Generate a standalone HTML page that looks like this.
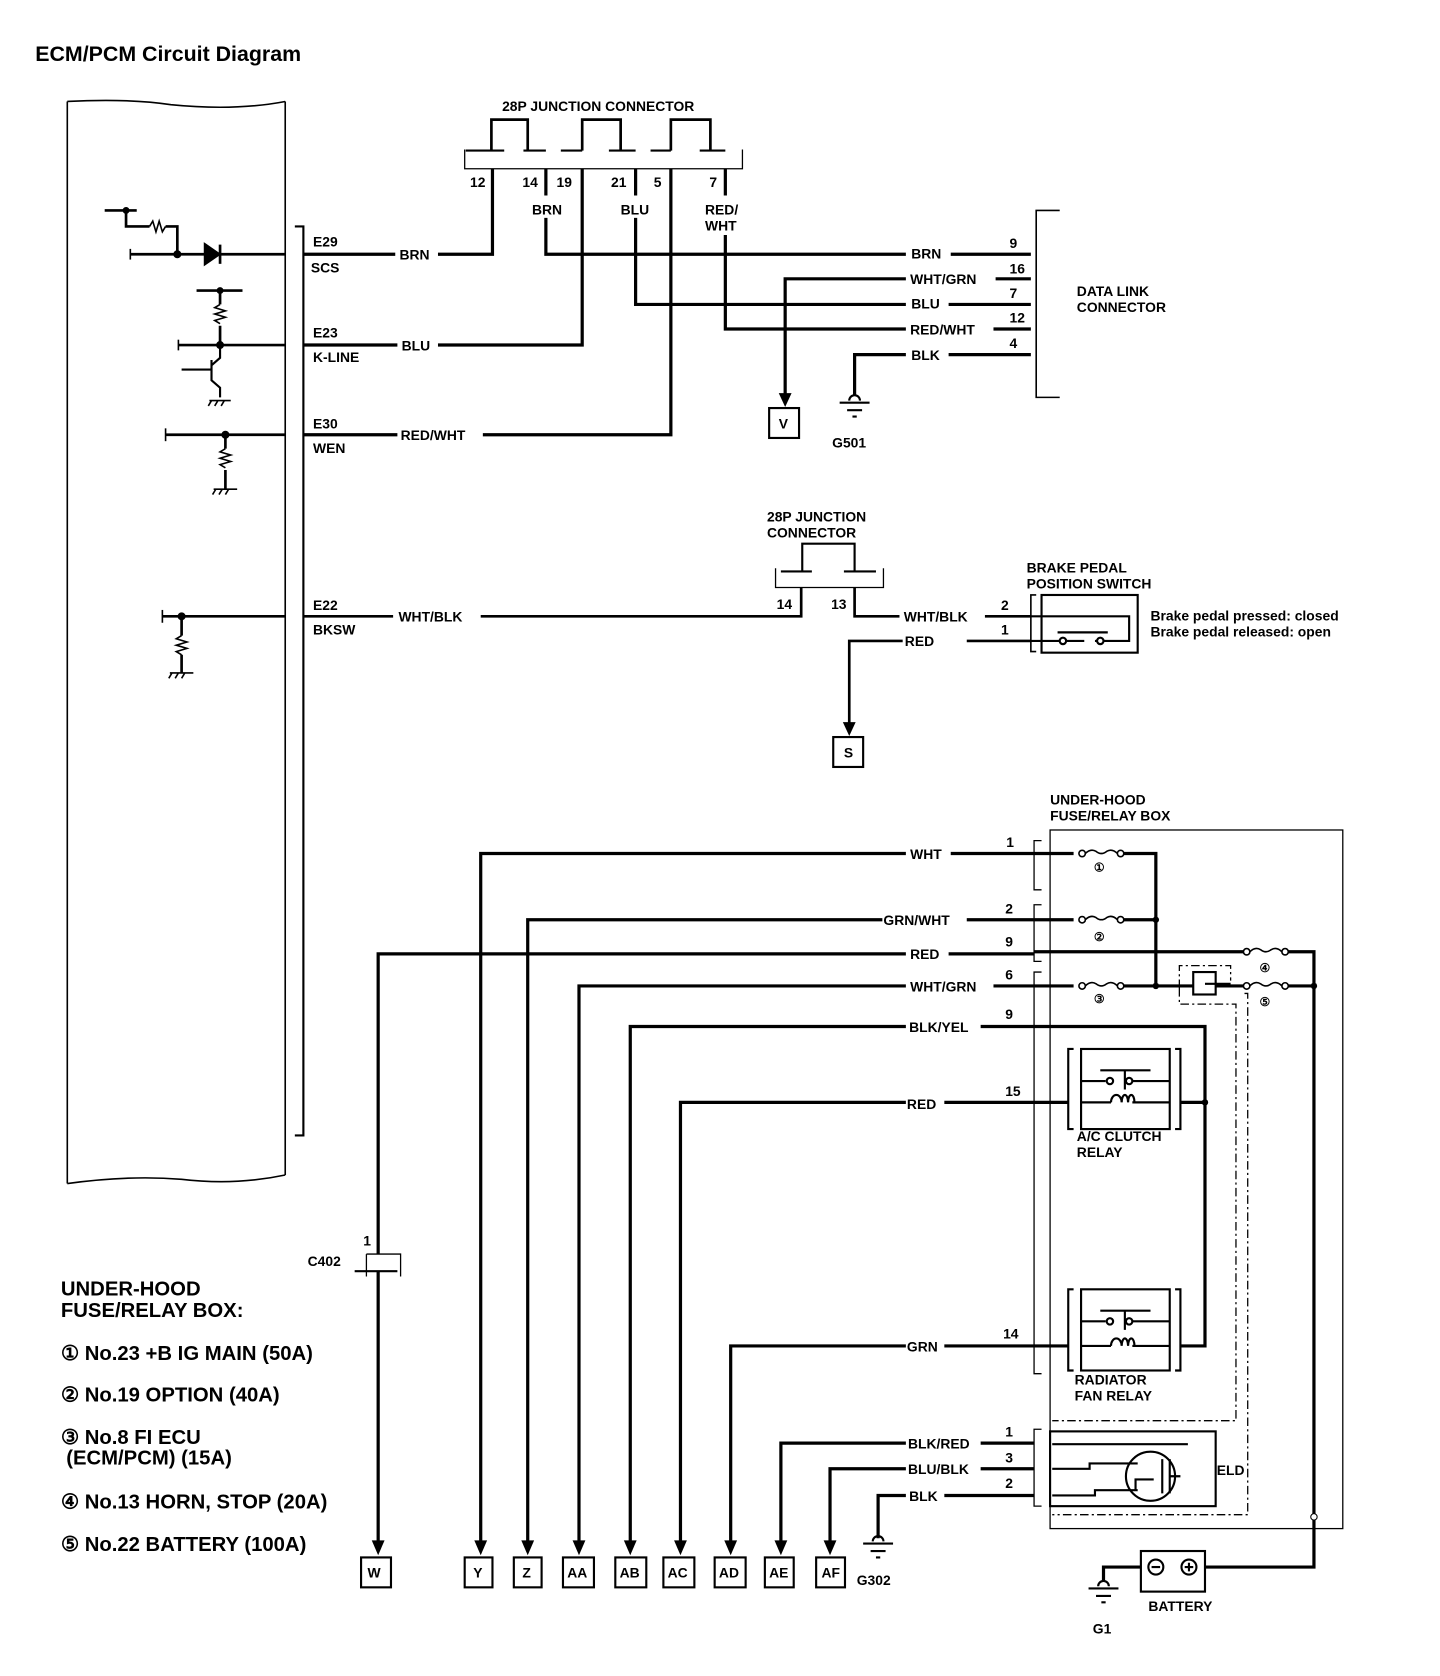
<!DOCTYPE html>
<html><head><meta charset="utf-8"><style>
html,body{margin:0;padding:0;background:#fff;}
svg{display:block;}
text{font-family:"Liberation Sans",sans-serif;font-weight:bold;fill:#000;}
</style></head><body>
<svg width="1440" height="1676" viewBox="0 0 1348 1569" preserveAspectRatio="none" xmlns="http://www.w3.org/2000/svg">
<defs>
<symbol id="fuse" overflow="visible"><circle cx="0" cy="0" r="3" fill="#fff" stroke="#000" stroke-width="1.5"/><path d="M3,0 Q8,-5 13,-2 Q18,2 23,-2 Q28,-5 33,0" fill="none" stroke="#000" stroke-width="1.5"/><circle cx="36" cy="0" r="3" fill="#fff" stroke="#000" stroke-width="1.5"/></symbol>
</defs>
<text x="33" y="57" font-size="20">ECM/PCM Circuit Diagram</text>

<!-- ECM box -->
<g fill="none" stroke="#000" stroke-width="1.5">
<path d="M63,95 Q120,92 160,98 Q220,104 267,95"/>
<path d="M63,95 V1108"/><path d="M267,95 V1100"/>
<path d="M63,1108 Q120,1100 170,1104 Q220,1110 267,1100"/>
<path d="M276,212 H284 V1063 H276" stroke-width="2"/>
</g>
<!-- ECM internals -->
<g fill="none" stroke="#000" stroke-width="2.5">
<path d="M98,197 H128"/><circle cx="118" cy="197" r="2" fill="#000"/>
<path d="M118,197 V212 H140 M155,212 H166 V238"/>
<path d="M140,212 l3,-5 l3,10 l3,-10 l3,10 l3,-5" stroke-width="1.5"/>
<path d="M122,238 H267"/><path d="M122,233 V243" stroke-width="1.5"/>
<path d="M192,229 L205,238 L192,247 Z" fill="#000"/><path d="M206,229 V247"/>
<circle cx="166" cy="238" r="2.5" fill="#000"/>
<path d="M184,272 H227"/><circle cx="206" cy="272" r="2" fill="#000"/>
<path d="M206,272 V285 M206,305 V323"/>
<path d="M206,285 l-5,3 l10,3 l-10,3 l10,3 l-10,3 l5,3" stroke-width="1.5"/>
<path d="M167,323 H267"/><path d="M167,318 V328" stroke-width="1.5"/><circle cx="206" cy="323" r="2.5" fill="#000"/>
<path d="M206,323 V335 L198,342 M198,337 V356 L206,363 V372 M170,346 H198" stroke-width="2"/>
<path d="M196,375 H216 M198,375 l-3,5 M204,375 l-3,5 M210,375 l-3,5" stroke-width="1.5"/>
<path d="M155,407 H267"/><path d="M155,401 V413" stroke-width="1.5"/><circle cx="211" cy="407" r="2.5" fill="#000"/>
<path d="M211,407 V420 M211,440 V458"/>
<path d="M211,420 l-5,3 l10,3 l-10,3 l10,3 l-10,3 l5,3" stroke-width="1.5"/>
<path d="M200,458 H222 M202,458 l-3,5 M208,458 l-3,5 M214,458 l-3,5" stroke-width="1.5"/>
<path d="M152,577 H267"/><path d="M152,571 V583" stroke-width="1.5"/><circle cx="170" cy="577" r="2.5" fill="#000"/>
<path d="M170,577 V595 M170,613 V630"/>
<path d="M170,595 l-5,3 l10,3 l-10,3 l10,3 l-10,3 l5,3" stroke-width="1.5"/>
<path d="M159,630 H181 M161,630 l-3,5 M167,630 l-3,5 M173,630 l-3,5" stroke-width="1.5"/>
</g>

<!-- top junction connector -->
<text x="470" y="104" font-size="13">28P JUNCTION CONNECTOR</text>
<g fill="none" stroke="#000" stroke-width="2.5">
<path d="M460,141 V112 H494 V141 M545,141 V112 H581 V141 M628,141 V112 H665 V141"/>
<path d="M436,141 H472 M490,141 H511 M525,141 H545 M570,141 H595 M609,141 H628 M655,141 H679" stroke-width="2"/>
<path d="M435,140 V158 H695 V140" stroke-width="1.2"/>
</g>
<g font-size="13"><text x="440" y="175">12</text><text x="489" y="175">14</text><text x="521" y="175">19</text><text x="572" y="175">21</text><text x="612" y="175">5</text><text x="664" y="175">7</text>
<text x="498" y="201">BRN</text><text x="581" y="201">BLU</text><text x="660" y="201">RED/</text><text x="660" y="216">WHT</text></g>

<!-- wires -->
<g fill="none" stroke="#000" stroke-width="3">
<path d="M284,238 H370 M410,238 H461 V158"/>
<path d="M284,323 H372 M410,323 H545 V158"/>
<path d="M284,407 H372 M452,407 H628 V158"/>
<path d="M511,158 V183 M511,204 V238 H848 M890,238 H965"/>
<path d="M595,158 V183 M595,204 V285 H848 M888,285 H965"/>
<path d="M679,158 V183 M679,220 V308 H848 M930,308 H965"/>
<path d="M965,261 H932 M848,261 H735 V372"/>
<path d="M965,332 H888 M848,332 H800 V370"/>
</g>
<polygon points="729,368 741,368 735,381" fill="#000"/>
<g font-size="13">
<text x="293" y="231">E29</text><text x="291" y="255">SCS</text>
<text x="293" y="316">E23</text><text x="293" y="339">K-LINE</text>
<text x="293" y="401">E30</text><text x="293" y="424">WEN</text>
<text x="293" y="571">E22</text><text x="293" y="594">BKSW</text>
<text x="374" y="243">BRN</text><text x="376" y="328">BLU</text><text x="375" y="412">RED/WHT</text><text x="373" y="582">WHT/BLK</text>
<text x="853" y="242">BRN</text><text x="852" y="266">WHT/GRN</text><text x="853" y="289">BLU</text><text x="852" y="313">RED/WHT</text><text x="853" y="337">BLK</text>
<text x="945" y="232">9</text><text x="945" y="256">16</text><text x="945" y="279">7</text><text x="945" y="302">12</text><text x="945" y="326">4</text>
<text x="1008" y="277">DATA LINK</text><text x="1008" y="292">CONNECTOR</text>
</g>
<path d="M992,197 H970 V372 H992" fill="none" stroke="#000" stroke-width="1.5"/>
<rect x="720" y="382" width="28" height="28" fill="none" stroke="#000" stroke-width="2"/><text x="729" y="401" font-size="13">V</text>
<g stroke="#000" stroke-width="2" fill="none"><path d="M795,375 a5,5 0 0 1 10,0"/><path d="M786,377 H814 M793,384 H807 M798,390 H802"/></g>
<text x="779" y="419" font-size="13">G501</text>

<!-- second junction -->
<text x="718" y="488" font-size="13">28P JUNCTION</text><text x="718" y="503" font-size="13">CONNECTOR</text>
<g fill="none" stroke="#000" stroke-width="2.5">
<path d="M751,535 V509 H800 V535 M731,535 H760 M790,535 H820" stroke-width="2"/>
<path d="M726,532 V550 H827 V532" stroke-width="1.2"/>
<path d="M284,577 H368 M450,577 H750 V550"/>
<path d="M800,550 V577 H842 M922,577 H965"/>
<path d="M965,600 H905 M845,600 H795 V680"/>
</g>
<polygon points="789,676 801,676 795,689" fill="#000"/>
<g font-size="13"><text x="727" y="570">14</text><text x="778" y="570">13</text>
<text x="846" y="582">WHT/BLK</text><text x="847" y="605">RED</text><text x="937" y="571">2</text><text x="937" y="594">1</text>
<text x="961" y="536">BRAKE PEDAL</text><text x="961" y="551">POSITION SWITCH</text>
<text x="1077" y="581">Brake pedal pressed: closed</text><text x="1077" y="596">Brake pedal released: open</text></g>
<rect x="780" y="690" width="28" height="28" fill="none" stroke="#000" stroke-width="2"/><text x="790" y="709" font-size="13">S</text>
<g fill="none" stroke="#000" stroke-width="2">
<path d="M970,557 H965 V610 H970" stroke-width="1.5"/>
<rect x="975" y="557" width="90" height="54"/>
<path d="M965,577 H1057 V600 H1025 M1015,600 H965 M990,592 H1037"/>
<circle cx="995" cy="600" r="3" fill="#fff"/><circle cx="1030" cy="600" r="3" fill="#fff"/>
</g>

<!-- under-hood box -->
<text x="983" y="753" font-size="13">UNDER-HOOD</text><text x="983" y="768" font-size="13">FUSE/RELAY BOX</text>
<rect x="983" y="777" width="274" height="654" fill="none" stroke="#000" stroke-width="1.2"/>
<g fill="none" stroke="#000" stroke-width="1.2">
<path d="M975,787 H968 V833 H975"/><path d="M975,847 H968 V900 H975"/><path d="M975,910 H968 V1286 H975"/><path d="M975,1338 H968 V1410 H975"/>
<path d="M343,1174 H375 V1195 M343,1174 V1195"/>
<path d="M1104,925 V904 H1152 V918 M1104,925 V940 H1157 V1330 H985 M1165,930 H1168 V1418 H985" stroke-dasharray="8,3,2,3"/>
</g>
<g fill="none" stroke="#000" stroke-width="3">
<path d="M968,799 H1005 M1050,799 H1082 V923"/>
<path d="M968,861 H1005 M1050,861 H1082"/>
<path d="M968,891 H1165 M1205,891 H1230 V1420"/>
<path d="M968,923 H1005 M1050,923 H1165 M1205,923 H1230"/>
<path d="M968,961 H1128 V1260 H1105"/>
<path d="M968,1032 H1000 M1105,1032 H1128"/>
<path d="M968,1260 H1000"/>
<path d="M1230,1420 V1467 H1128"/>
<path d="M1068,1467 H1033 V1480"/>
</g>
<rect x="1117" y="910" width="21" height="21" fill="#fff" stroke="#000" stroke-width="2"/><path d="M1128,921 H1152" stroke="#000" stroke-width="2"/>
<use href="#fuse" x="1013" y="799"/><use href="#fuse" x="1013" y="861"/><use href="#fuse" x="1013" y="923"/><use href="#fuse" x="1167" y="891"/><use href="#fuse" x="1167" y="923"/>
<g font-size="11" font-weight="normal"><text x="1024" y="816">①</text><text x="1024" y="881">②</text><text x="1024" y="939">③</text><text x="1179" y="910">④</text><text x="1179" y="942">⑤</text></g>
<circle cx="1082" cy="861" r="3" fill="#000"/><circle cx="1082" cy="923" r="3" fill="#000"/><circle cx="1230" cy="923" r="3" fill="#000"/><circle cx="1128" cy="1032" r="3" fill="#000"/><circle cx="1230" cy="1420" r="3" fill="#fff" stroke="#000"/>
<!-- relays -->
<g fill="none" stroke="#000" stroke-width="2">
<path d="M1005,982 H1000 V1057 H1005 M1100,982 H1105 V1057 H1100"/>
<rect x="1012" y="982" width="83" height="75"/>
<path d="M1012,1012 H1035 M1060,1012 H1095 M1030,1002 H1077 M1053,1002 V1020 M1012,1032 H1040 M1060,1032 H1095"/>
<circle cx="1039" cy="1012" r="3"/><circle cx="1057" cy="1012" r="3"/><path d="M1040,1032 a5,7 0 0 1 10,0 a3,7 0 0 1 6,0 a3,7 0 0 1 6,0"/>
<path d="M1005,1207 H1000 V1283 H1005 M1100,1207 H1105 V1283 H1100"/>
<rect x="1012" y="1207" width="83" height="76"/>
<path d="M1012,1237 H1035 M1060,1237 H1095 M1030,1227 H1077 M1053,1227 V1245 M1012,1260 H1040 M1060,1260 H1095"/>
<circle cx="1039" cy="1237" r="3"/><circle cx="1057" cy="1237" r="3"/><path d="M1040,1260 a5,7 0 0 1 10,0 a3,7 0 0 1 6,0 a3,7 0 0 1 6,0"/>
<rect x="983" y="1340" width="155" height="70"/>
<path d="M985,1352 H1112 M985,1375 H1020 V1370 H1065 M985,1400 H1025 V1395 H1065"/>
<circle cx="1077" cy="1382" r="23"/>
<path d="M1063,1395 V1385 H1080 M1088,1366 V1398 M1095,1366 V1398 M1095,1382 H1105"/>
</g>
<g font-size="13"><text x="1008" y="1068">A/C CLUTCH</text><text x="1008" y="1083">RELAY</text><text x="1006" y="1296">RADIATOR</text><text x="1006" y="1311">FAN RELAY</text><text x="1139" y="1381">ELD</text></g>
<!-- battery -->
<rect x="1068" y="1452" width="60" height="38" fill="none" stroke="#000" stroke-width="2"/>
<circle cx="1082" cy="1467" r="7" fill="none" stroke="#000" stroke-width="2"/><path d="M1078,1467 H1086" stroke="#000" stroke-width="2"/>
<circle cx="1113" cy="1467" r="7" fill="none" stroke="#000" stroke-width="2"/><path d="M1109,1467 H1117 M1113,1463 V1471" stroke="#000" stroke-width="2"/>
<text x="1075" y="1508" font-size="13">BATTERY</text>
<g stroke="#000" stroke-width="2" fill="none"><path d="M1028,1485 a5,5 0 0 1 10,0"/><path d="M1019,1487 H1047 M1026,1494 H1040 M1031,1500 H1035"/></g>
<text x="1023" y="1529" font-size="13">G1</text>

<!-- bottom wires -->
<g fill="none" stroke="#000" stroke-width="3">
<path d="M968,799 H890 M848,799 H450 V1446"/>
<path d="M968,861 H905 M826,861 H494 V1446"/>
<path d="M968,893 H888 M848,893 H354 V1174 M354,1190 V1446"/>
<path d="M968,923 H930 M848,923 H542 V1446"/>
<path d="M968,961 H918 M848,961 H590 V1446"/>
<path d="M968,1032 H884 M848,1032 H637 V1446"/>
<path d="M968,1260 H884 M848,1260 H684 V1446"/>
<path d="M968,1351 H918 M848,1351 H731 V1446"/>
<path d="M968,1375 H918 M848,1375 H777 V1446"/>
<path d="M968,1400 H884 M848,1400 H822 V1440"/>
<path d="M332,1190 H372" stroke-width="2"/>
</g>
<g fill="#000">
<polygon points="348,1442 360,1442 354,1456"/><polygon points="444,1442 456,1442 450,1456"/><polygon points="488,1442 500,1442 494,1456"/><polygon points="536,1442 548,1442 542,1456"/><polygon points="584,1442 596,1442 590,1456"/><polygon points="631,1442 643,1442 637,1456"/><polygon points="678,1442 690,1442 684,1456"/><polygon points="725,1442 737,1442 731,1456"/><polygon points="771,1442 783,1442 777,1456"/>
</g>
<g stroke="#000" stroke-width="2" fill="none"><path d="M817,1443 a5,5 0 0 1 10,0"/><path d="M808,1445 H836 M815,1452 H829 M820,1458 H824"/></g>
<text x="802" y="1484" font-size="13">G302</text>
<g font-size="13">
<text x="852" y="804">WHT</text><text x="827" y="866">GRN/WHT</text><text x="852" y="898">RED</text><text x="852" y="928">WHT/GRN</text><text x="851" y="966">BLK/YEL</text><text x="849" y="1038">RED</text><text x="849" y="1265">GRN</text><text x="850" y="1356">BLK/RED</text><text x="850" y="1380">BLU/BLK</text><text x="851" y="1405">BLK</text>
<text x="942" y="793">1</text><text x="941" y="855">2</text><text x="941" y="886">9</text><text x="941" y="917">6</text><text x="941" y="954">9</text><text x="941" y="1026">15</text><text x="939" y="1253">14</text><text x="941" y="1345">1</text><text x="941" y="1369">3</text><text x="941" y="1393">2</text>
<text x="340" y="1166">1</text><text x="288" y="1185">C402</text>
</g>
<g font-size="13" fill="none" stroke="#000" stroke-width="2">
<rect x="338" y="1458" width="28" height="28"/><rect x="435" y="1458" width="26" height="28"/><rect x="481" y="1458" width="26" height="28"/><rect x="527" y="1458" width="29" height="28"/><rect x="576" y="1458" width="29" height="28"/><rect x="621" y="1458" width="29" height="28"/><rect x="669" y="1458" width="29" height="28"/><rect x="716" y="1458" width="27" height="28"/><rect x="764" y="1458" width="27" height="28"/>
</g>
<g font-size="13"><text x="344" y="1477">W</text><text x="443" y="1477">Y</text><text x="489" y="1477">Z</text><text x="531" y="1477">AA</text><text x="580" y="1477">AB</text><text x="625" y="1477">AC</text><text x="673" y="1477">AD</text><text x="720" y="1477">AE</text><text x="769" y="1477">AF</text></g>

<!-- legend -->
<g font-size="19">
<text x="57" y="1213">UNDER-HOOD</text><text x="57" y="1233">FUSE/RELAY BOX:</text>
<text x="57" y="1273">① No.23 +B IG MAIN (50A)</text>
<text x="57" y="1312">② No.19 OPTION (40A)</text>
<text x="57" y="1352">③ No.8 FI ECU</text><text x="62" y="1371">(ECM/PCM) (15A)</text>
<text x="57" y="1412">④ No.13 HORN, STOP (20A)</text>
<text x="57" y="1452">⑤ No.22 BATTERY (100A)</text>
</g>
</svg>
</body></html>
